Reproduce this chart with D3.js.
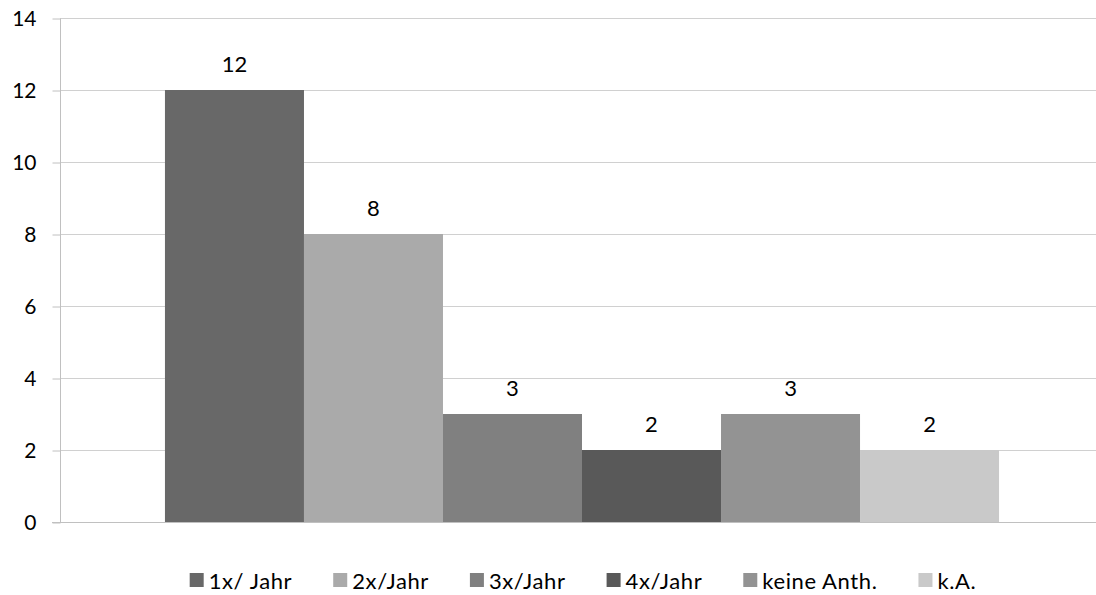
<!DOCTYPE html>
<html>
<head>
<meta charset="utf-8">
<script src="https://cdn.jsdelivr.net/npm/d3@7"></script>
<style>
  html, body { margin: 0; padding: 0; background: #fff; }
  svg { display: block; }
  text { font-family: Lato, "Open Sans", sans-serif; fill: #000; }
</style>
</head>
<body>
<svg id="chart" width="1096" height="595"></svg>
<script>
const seriesNames = ["1x/ Jahr", "2x/Jahr", "3x/Jahr", "4x/Jahr", "keine Anth.", "k.A."];
const seriesValues = [12, 8, 3, 2, 3, 2];
const seriesColors = ["#686868", "#aaaaaa", "#808080", "#595959", "#939393", "#c9c9c9"];
const yTicks = [0, 2, 4, 6, 8, 10, 12, 14];

(function () {
const svg = d3.select("#chart");
const pLeft = 60, pRight = 1104, pTop = 18, pBottom = 522;

const y = d3.scaleLinear().domain([0, 14]).range([pBottom, pTop]);
const x = d3.scaleBand().domain(seriesNames).range([pLeft, pRight])
  .paddingInner(0).paddingOuter(0.755);

// gridlines
svg.append("g").selectAll("line").data(yTicks.filter(d => d > 0)).join("line")
  .attr("x1", pLeft).attr("x2", 1096)
  .attr("y1", d => y(d) + 0.5).attr("y2", d => y(d) + 0.5)
  .attr("stroke", "#d0d0d0").attr("stroke-width", 1);

// bars
svg.append("g").selectAll("rect").data(seriesNames).join("rect")
  .attr("x", d => x(d))
  .attr("width", x.bandwidth())
  .attr("y", (d, i) => y(seriesValues[i]))
  .attr("height", (d, i) => y(0) - y(seriesValues[i]))
  .attr("fill", (d, i) => seriesColors[i]);

// value labels
svg.append("g").selectAll("text").data(seriesNames).join("text")
  .attr("x", d => x(d) + x.bandwidth() / 2)
  .attr("y", (d, i) => y(seriesValues[i]) - 18)
  .attr("text-anchor", "middle")
  .style("font-size", "22px")
  .text((d, i) => seriesValues[i]);

// y axis
const yAxis = d3.axisLeft(y).tickValues(yTicks).tickSize(8).tickPadding(16).tickFormat(d3.format("d"));
const ya = svg.append("g").attr("transform", `translate(${pLeft + 0.5},0.5)`).call(yAxis);
ya.select(".domain").attr("stroke", "#c0c0c0").attr("d", `M0,${pTop}V${pBottom}`);
ya.selectAll(".tick line").attr("stroke", "#c0c0c0");
ya.selectAll(".tick text").style("font-size", "21px").style("font-family", "Lato, 'Open Sans', sans-serif").attr("fill", "#000");

// x axis baseline
svg.append("line").attr("x1", pLeft - 8).attr("x2", 1096)
  .attr("y1", pBottom + 0.5).attr("y2", pBottom + 0.5)
  .attr("stroke", "#c0c0c0");

// legend
const legend = svg.append("g");
const items = legend.selectAll("g").data(seriesNames).join("g");
items.append("rect").attr("width", 14).attr("height", 14).attr("y", 573)
  .attr("fill", (d, i) => seriesColors[i]);
items.append("text").attr("x", 19).attr("y", 589)
  .style("font-size", "22px").style("letter-spacing", "0.6px").text(d => d);
const widths = [];
items.each(function () { widths.push(19 + d3.select(this).select("text").node().getComputedTextLength()); });
const gap = 41;
const total = d3.sum(widths) + gap * (widths.length - 1);
let cx = 583 - total / 2;
items.attr("transform", (d, i) => { const t = `translate(${cx},0)`; cx += widths[i] + gap; return t; });
})();
</script>
</body>
</html>
